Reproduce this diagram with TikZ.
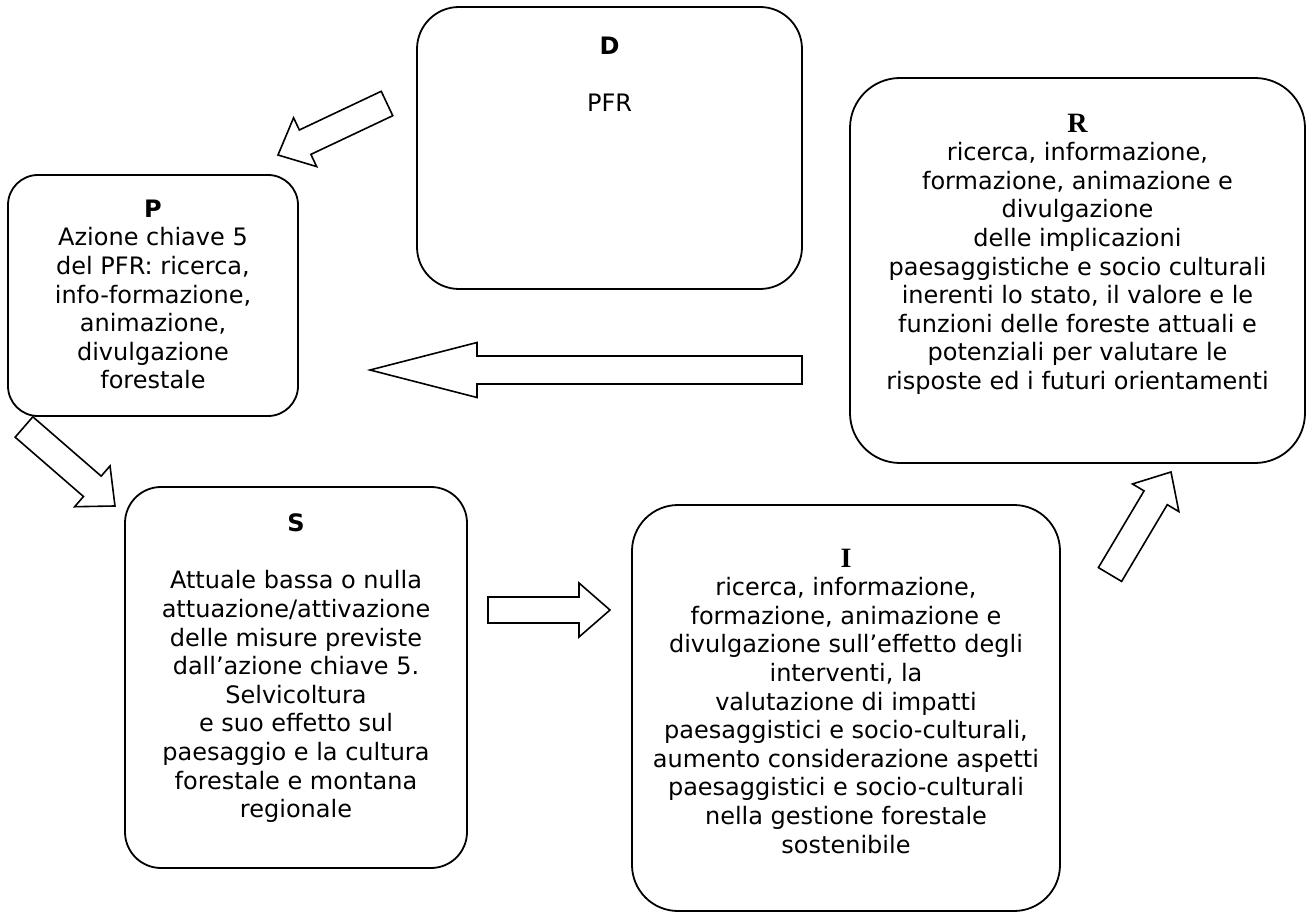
\documentclass[tikz,border=0pt]{standalone}
\usepackage{fontspec}
\setmainfont{DejaVu Sans}
\newfontfamily\titleserif{Liberation Serif}
\usetikzlibrary{positioning,calc}

% outlined block arrow: tail, tip, half shaft, half head, head length
\newcommand{\blockarrow}[5]{%
  \draw[barrow] let \p1=($(#2)-(#1)$), \n1={atan2(\y1,\x1)}, \n2={veclen(\x1,\y1)} in
    [shift={(#1)}, rotate=\n1]
    (0pt,-#3pt) -- (\n2-#5pt,-#3pt) -- (\n2-#5pt,-#4pt) -- (\n2,0pt)
    -- (\n2-#5pt,#4pt) -- (\n2-#5pt,#3pt) -- (0pt,#3pt) -- cycle;
}
\newcommand{\bigletter}[1]{{\fontsize{28}{28.6}\selectfont\titleserif\bfseries #1}}

\begin{document}
\begin{tikzpicture}[
  x=1pt, y=-1pt,
  font=\fontsize{24}{28.6}\selectfont,
  pbox/.style={draw, line width=1.8pt, fill=white},
  txt/.style={align=center, inner sep=0pt},
  barrow/.style={line width=1.6pt, fill=white, line join=miter}
]
\useasboundingbox (0,0) rectangle (1312,917);

% boxes
\node[pbox, rounded corners=42pt, minimum width=385pt, minimum height=282pt] (D) at (609.5,148) {};
\node[pbox, rounded corners=30pt, minimum width=290pt, minimum height=241pt] (P) at (153,295.5) {};
\node[pbox, rounded corners=50pt, minimum width=455pt, minimum height=385pt] (R) at (1077.5,270.5) {};
\node[pbox, rounded corners=36pt, minimum width=342pt, minimum height=381pt] (S) at (296,677.5) {};
\node[pbox, rounded corners=46pt, minimum width=428pt, minimum height=406pt] (I) at (846,708) {};

% texts
\node[txt, below=30.5pt of D.north] (Dt) {\textbf{D}\\[28.6pt]PFR};
\node[txt, below=25.5pt of P.north] (Pt) {\textbf{P}\\Azione chiave 5\\del PFR: ricerca,\\info-formazione,\\animazione,\\divulgazione\\forestale};
\node[txt, below=27.5pt of S.north] (St) {\textbf{S}\\[28.6pt]Attuale bassa o nulla\\attuazione/attivazione\\delle misure previste\\dall’azione chiave 5.\\Selvicoltura\\e suo effetto sul\\paesaggio e la cultura\\forestale e montana\\regionale};
\node[txt, below=36.5pt of R.north] (Rt) {\bigletter{R}\\ricerca, informazione,\\formazione, animazione e\\divulgazione\\delle implicazioni\\paesaggistiche e socio culturali\\inerenti lo stato, il valore e le\\funzioni delle foreste attuali e\\potenziali per valutare le\\risposte ed i futuri orientamenti};
\node[txt, below=44.5pt of I.north] (It) {\bigletter{I}\\ricerca, informazione,\\formazione, animazione e\\divulgazione sull’effetto degli\\interventi, la\\valutazione di impatti\\paesaggistici e socio-culturali,\\aumento considerazione aspetti\\paesaggistici e socio-culturali\\nella gestione forestale\\sostenibile};

% arrow ends
\coordinate (dpTail) at (387,103.5);
\coordinate (dpTip) at (278,155);
\coordinate (psTail) at (24,427);
\coordinate (psTip) at (115,506);
\coordinate (siTail) at (488,610);
\coordinate (siTip) at (610,610);
\coordinate (irTail) at (1110,574.5);
\coordinate (irTip) at (1171,472);
\coordinate (rpTail) at (802,370);
\coordinate (rpTip) at (370,370);

\blockarrow{dpTail}{dpTip}{13.5}{27}{30}
\blockarrow{psTail}{psTip}{13.5}{27}{30}
\blockarrow{siTail}{siTip}{13}{27}{31}
\blockarrow{irTail}{irTip}{13.5}{27}{30}
\blockarrow{rpTail}{rpTip}{14}{27.5}{107}
\end{tikzpicture}
\end{document}
